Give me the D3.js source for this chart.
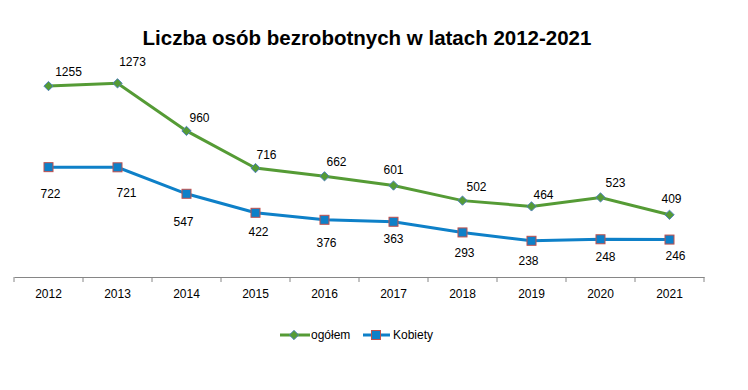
<!DOCTYPE html>
<html><head><meta charset="utf-8">
<script src="https://cdn.jsdelivr.net/npm/d3@7"></script>
<style>body{margin:0;background:#fff}svg{display:block;font-family:"Liberation Sans",Arial,sans-serif}</style>
</head><body><svg id="c" width="748" height="390"></svg>
<script>
const years = ["2012","2013","2014","2015","2016","2017","2018","2019","2020","2021"];
const ogolem = [1255,1273,960,716,662,601,502,464,523,409];
const kobiety = [722,721,547,422,376,363,293,238,248,246];
const seriesNames = ["ogółem","Kobiety"];
const title = "Liczba osób bezrobotnych w latach 2012-2021";
// manual label offsets (px) as placed in the original chart
const ogolemLabelOffsets = [[20,-10],[15,-17],[13,-9],[11,-9],[12,-10],[0,-12],[14,-10],[12,-7],[15,-10],[2,-12]];
const kobietyLabelOffsets = [[2,31],[9,30],[-3,32],[3,23],[2,27],[0,21],[2,25],[-3,24],[5,22],[6,20]];

const svg = d3.select("#c");
const x = d3.scaleBand().domain(years).range([14,704]);
const y = d3.scaleLinear().domain([0,1400]).range([277,64]);
const cx = d => x(d) + x.bandwidth()/2;

svg.append("text").attr("x",367).attr("y",45).attr("text-anchor","middle")
  .attr("font-size",20.5).attr("font-weight","bold").attr("fill","#000").text(title);

const ax = svg.append("g").attr("transform","translate(0,277)")
  .call(d3.axisBottom(x).tickSize(0).tickPadding(12));
ax.select(".domain").attr("stroke","#868686");
ax.selectAll("text").attr("font-size",12).attr("fill","#000").attr("font-family","Liberation Sans, Arial, sans-serif");
const edges = years.map(d=>x(d)).concat([x.range()[1]]);
svg.append("g").selectAll("line").data(edges).join("line")
  .attr("x1",d=>d).attr("x2",d=>d).attr("y1",277).attr("y2",282).attr("stroke","#868686");

const line = d3.line().x((d,i)=>cx(years[i])).y(d=>y(d));
const green = "#559B35", blue = "#0E80C8";
svg.append("path").datum(ogolem).attr("d",line).attr("fill","none").attr("stroke",green).attr("stroke-width",3);
svg.append("path").datum(kobiety).attr("d",line).attr("fill","none").attr("stroke",blue).attr("stroke-width",3);

const diamond = d3.symbol().type(d3.symbolDiamond2).size(55);
svg.append("g").selectAll("path").data(ogolem).join("path")
  .attr("d",diamond).attr("transform",(d,i)=>`translate(${cx(years[i])},${y(d)})`)
  .attr("fill",green).attr("stroke","#4F81BD").attr("stroke-width",1);
svg.append("g").selectAll("rect").data(kobiety).join("rect")
  .attr("x",(d,i)=>cx(years[i])-4.5).attr("y",d=>y(d)-4.5).attr("width",9).attr("height",9)
  .attr("fill",blue).attr("stroke","#C0504D").attr("stroke-width",1);

svg.append("g").selectAll("text").data(ogolem).join("text")
  .attr("x",(d,i)=>cx(years[i])+ogolemLabelOffsets[i][0]).attr("y",(d,i)=>y(d)+ogolemLabelOffsets[i][1]).attr("text-anchor","middle")
  .attr("font-size",12).attr("fill","#000").text(d=>d);
svg.append("g").selectAll("text").data(kobiety).join("text")
  .attr("x",(d,i)=>cx(years[i])+kobietyLabelOffsets[i][0]).attr("y",(d,i)=>y(d)+kobietyLabelOffsets[i][1]).attr("text-anchor","middle")
  .attr("font-size",12).attr("fill","#000").text(d=>d);

// legend
const lg = svg.append("g");
lg.append("line").attr("x1",280).attr("x2",310).attr("y1",335).attr("y2",335).attr("stroke",green).attr("stroke-width",3);
lg.append("path").attr("d",diamond).attr("transform","translate(294,335)").attr("fill",green).attr("stroke","#4F81BD");
lg.append("text").attr("x",311).attr("y",339).attr("font-size",12).text(seriesNames[0]);
lg.append("line").attr("x1",363).attr("x2",390).attr("y1",335).attr("y2",335).attr("stroke",blue).attr("stroke-width",3);
lg.append("rect").attr("x",371.5).attr("y",330.5).attr("width",9).attr("height",9).attr("fill",blue).attr("stroke","#C0504D");
lg.append("text").attr("x",393).attr("y",339).attr("font-size",12).text(seriesNames[1]);
</script></body></html>
